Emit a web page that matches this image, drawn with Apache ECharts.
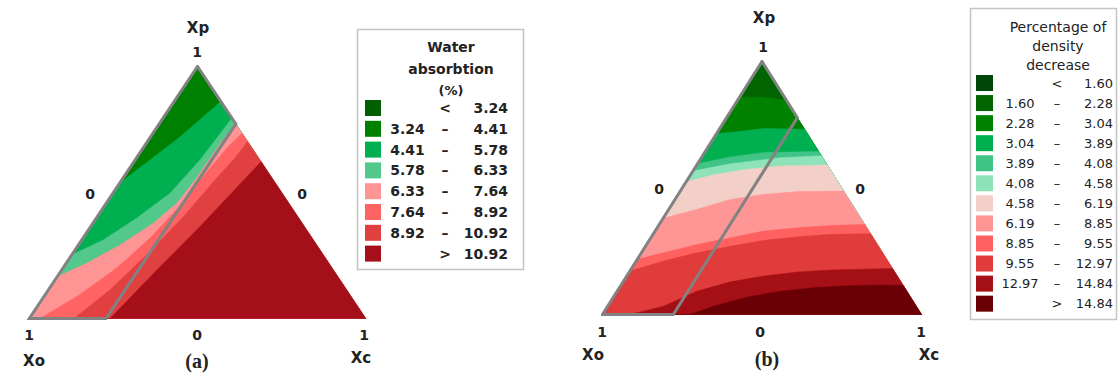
<!DOCTYPE html>
<html><head><meta charset="utf-8">
<script src="https://cdn.jsdelivr.net/npm/echarts@6/dist/echarts.min.js"></script>
<style>html,body{margin:0;padding:0;background:#fff}#c{width:1118px;height:374px}</style>
</head><body><div id="c"></div>
<script>
// ===== (a) Water absorption (%) =====
const waterBreaks = [3.24, 4.41, 5.78, 6.33, 7.64, 8.92, 10.92];
const waterColors = ['#006000', '#008000', '#00b050', '#52c98a', '#ff9494', '#ff6363', '#e04040', '#a50f19'];
// isolines, ternary points [Xc, Xp] (Xo = 1 - Xc - Xp)
const waterIso441  = [[0,0.537],[0.044,0.629],[0.088,0.72],[0.119,0.808],[0.139,0.861]];
const waterIso578  = [[0,0.252],[0.064,0.312],[0.12,0.398],[0.17,0.497],[0.193,0.629],[0.205,0.795]];
const waterIso633  = [[0,0.166],[0.061,0.219],[0.124,0.292],[0.18,0.378],[0.21,0.457],[0.218,0.55],[0.221,0.70],[0.226,0.774]];
const waterIso764  = [[0.032,0],[0.1,0.09],[0.16,0.2],[0.2,0.32],[0.225,0.45],[0.235,0.57],[0.25,0.68],[0.265,0.735]];
const waterIso892  = [[0.133,0],[0.183,0.113],[0.228,0.272],[0.257,0.411],[0.277,0.55],[0.293,0.637],[0.298,0.702]];
const waterIso1092 = [[0.24,0],[0.285,0.2],[0.325,0.364],[0.378,0.622]];
const waterXcMax = 0.228;

// ===== (b) Percentage of density decrease =====
const densBreaks = [1.60, 2.28, 3.04, 3.89, 4.08, 4.58, 6.19, 8.85, 9.55, 12.97, 14.84];
const densColors = ['#00460a', '#006400', '#008200', '#00b050', '#40c485', '#8ee3b8', '#f2d0c8', '#ff9696', '#ff6161', '#e03c3c', '#a50f16', '#690005'];
const densIso228  = [[0,0.8575],[0.066,0.86],[0.153,0.847]];
const densIso304  = [[0,0.715],[0.042,0.719],[0.139,0.735],[0.268,0.732]];
const densIso389  = [[0,0.596],[0.09,0.623],[0.186,0.64],[0.356,0.644]];
const densIso408  = [[0,0.567],[0.103,0.596],[0.249,0.62],[0.373,0.627]];
const densIso458  = [[0,0.525],[0.073,0.552],[0.167,0.574],[0.265,0.587],[0.409,0.591]];
const densIso619  = [[0,0.38],[0.088,0.416],[0.174,0.455],[0.269,0.475],[0.369,0.486],[0.512,0.488]];
const densIso885  = [[0,0.218],[0.069,0.244],[0.158,0.277],[0.25,0.303],[0.341,0.33],[0.44,0.343],[0.54,0.352],[0.644,0.356]];
const densIso955  = [[0,0.172],[0.086,0.211],[0.174,0.244],[0.266,0.27],[0.36,0.293],[0.458,0.307],[0.558,0.317],[0.681,0.319]];
const densIso1297 = [[0.086,0],[0.175,0.033],[0.25,0.092],[0.337,0.129],[0.43,0.152],[0.528,0.168],[0.629,0.176],[0.732,0.179],[0.818,0.182]];
const densIso1484 = [[0.275,0],[0.332,0.033],[0.42,0.069],[0.513,0.092],[0.611,0.106],[0.712,0.114],[0.816,0.116],[0.885,0.115]];
const densXcMax = 0.222;

// ===== text =====
const vertexNames = ['Xp', 'Xo', 'Xc'];
const tickLabels = ['1', '0'];
const panelLabels = ['(a)', '(b)'];
const waterTitle = ['Water', 'absorbtion', '(%)'];
const densTitle = ['Percentage of', 'density', 'decrease'];

// ---------- helpers ----------
const toUV = p => [p[0] + p[1] / 2, p[1]];
const TRI = [[0,0],[1,0],[0.5,1]];
function clipPoly(poly, clip) {
  let out = poly;
  for (let i = 0; i < clip.length; i++) {
    const a = clip[i], b = clip[(i + 1) % clip.length];
    const inp = out; out = [];
    if (!inp.length) break;
    const side = p => (b[0]-a[0])*(p[1]-a[1]) - (b[1]-a[1])*(p[0]-a[0]);
    for (let j = 0; j < inp.length; j++) {
      const P = inp[j], Q = inp[(j + 1) % inp.length];
      const sp = side(P), sq = side(Q);
      if (sp >= 0) out.push(P);
      if ((sp >= 0) !== (sq >= 0)) {
        const t = sp / (sp - sq);
        out.push([P[0] + t*(Q[0]-P[0]), P[1] + t*(Q[1]-P[1])]);
      }
    }
  }
  return out;
}
function regionBelow(iso) {
  if (iso === 'full') return clipPoly([[-1,2],[2,2],[2,-2],[-1,-2]], TRI);
  const pts = iso.map(toUV);
  const f = pts[0], l = pts[pts.length - 1];
  return clipPoly([[-1, f[1]], ...pts, [2, l[1]], [2, -2], [-1, -2]], TRI);
}
const fmt = v => v.toFixed(2);
function bandNames(br) {
  const n = [];
  n.push('< ' + fmt(br[0]));
  for (let i = 1; i < br.length; i++) n.push(fmt(br[i-1]) + ' – ' + fmt(br[i]));
  n.push('> ' + fmt(br[br.length-1]));
  return n;
}
function richName(name) {
  if (name[0] === '<' || name[0] === '>') return '{lo| }{op|' + name[0] + '}{hi|' + name.slice(2) + '}';
  const p = name.split(' – ');
  return '{lo|' + p[0] + '}{op|–}{hi|' + p[1] + '}';
}
function bandSeries(names, colors, isos, g) {
  // isos[i] = lower-bound isoline of band i ('full' = whole triangle, null = absent)
  return names.map((name, i) => {
    const poly = isos[i] ? regionBelow(isos[i]) : null;
    return {
      type: 'custom', name, xAxisIndex: g, yAxisIndex: g, z: 2 + i, silent: true, animation: false,
      itemStyle: { color: colors[i] },
      data: poly ? [[0, 0]] : [],
      renderItem: (params, api) => ({
        type: 'polygon',
        shape: { points: poly.map(p => api.coord(p)) },
        style: { fill: colors[i], stroke: colors[i], lineWidth: 0.5 }
      })
    };
  });
}
function outlineSeries(xcMax, g) {
  const verts = [[0,1],[0,0],[xcMax,0],[xcMax,1-xcMax],[0,1]];
  return { type: 'line', xAxisIndex: g, yAxisIndex: g, z: 60, silent: true, animation: false,
    data: verts.map(toUV), symbol: 'none',
    lineStyle: { color: '#828282', width: 3, join: 'miter', cap: 'square' } };
}

const waterNames = bandNames(waterBreaks);
const densNames = bandNames(densBreaks);
const waterIsos = [null, 'full', waterIso441, waterIso578, waterIso633, waterIso764, waterIso892, waterIso1092];
const densIsos = [null, 'full', densIso228, densIso304, densIso389, densIso408, densIso458, densIso619, densIso885, densIso955, densIso1297, densIso1484];

const FONT = '"DejaVu Sans", "Noto Sans", sans-serif';
const txt = (t, x, y, opt) => Object.assign({
  type: 'text', x, y, silent: true, z: 100,
  style: Object.assign({ text: t, fill: '#222', font: 'bold 15px ' + FONT, lineHeight: 15,
    align: 'center', textAlign: 'center', verticalAlign: 'middle', textVerticalAlign: 'middle' }, opt || {})
});
const SERIF = { font: 'bold 20px "Liberation Serif", serif', lineHeight: 20 };
const TICK = { font: 'bold 14px ' + FONT };

const graphics = [
  // panel (a)
  txt(vertexNames[0], 198, 28),
  txt(tickLabels[0], 197, 52, TICK),
  txt(tickLabels[1], 90, 194, TICK),
  txt(tickLabels[1], 302, 194, TICK),
  txt(tickLabels[0], 29, 335, TICK),
  txt(tickLabels[1], 197, 335, TICK),
  txt(tickLabels[0], 364, 335, TICK),
  txt(vertexNames[1], 34, 361),
  txt(vertexNames[2], 361, 358),
  txt(panelLabels[0], 197, 361, SERIF),
  // panel (b)
  txt(vertexNames[0], 764, 18),
  txt(tickLabels[0], 763, 47, TICK),
  txt(tickLabels[1], 659, 189, TICK),
  txt(tickLabels[1], 860, 189, TICK),
  txt(tickLabels[0], 602, 332, TICK),
  txt(tickLabels[1], 760, 332, TICK),
  txt(tickLabels[0], 921, 332, TICK),
  txt(vertexNames[1], 593, 355),
  txt(vertexNames[2], 929, 355),
  txt(panelLabels[1], 767, 359, SERIF),
  // legend boxes
  { type: 'rect', shape: { x: 357.5, y: 29.5, width: 166, height: 240 }, style: { fill: 'none', stroke: '#c4c4c4', lineWidth: 1.5 }, silent: true },
  { type: 'rect', shape: { x: 970.5, y: 8.5, width: 146, height: 311 }, style: { fill: 'none', stroke: '#c4c4c4', lineWidth: 1.5 }, silent: true },
  txt(waterTitle[0], 451, 47, { font: 'bold 14px ' + FONT, lineHeight: 14 }),
  txt(waterTitle[1], 451, 69, { font: 'bold 14px ' + FONT, lineHeight: 14 }),
  txt(waterTitle[2], 451, 90, { font: 'bold 13px ' + FONT, lineHeight: 13 }),
  txt(densTitle[0], 1058, 27, { font: '14px ' + FONT, lineHeight: 14 }),
  txt(densTitle[1], 1058, 46, { font: '14px ' + FONT, lineHeight: 14 }),
  txt(densTitle[2], 1058, 65, { font: '14px ' + FONT, lineHeight: 14 })
];

const richStyle = (w, weight, size) => ({
  lo: { width: w[0], align: 'right', fontSize: size, fontWeight: weight, fontFamily: FONT, color: '#222', lineHeight: 16 },
  op: { width: w[1], align: 'center', fontSize: size, fontWeight: weight, fontFamily: FONT, color: '#222', lineHeight: 16 },
  hi: { width: w[2], align: 'right', fontSize: size, fontWeight: weight, fontFamily: FONT, color: '#222', lineHeight: 16 }
});

const option = {
  backgroundColor: '#fff',
  animation: false,
  grid: [
    { left: 29.3, top: 66.5, width: 336.4, height: 252 },
    { left: 602.5, top: 61.5, width: 319, height: 253 }
  ],
  xAxis: [
    { type: 'value', min: 0, max: 1, show: false, gridIndex: 0 },
    { type: 'value', min: 0, max: 1, show: false, gridIndex: 1 }
  ],
  yAxis: [
    { type: 'value', min: 0, max: 1, show: false, gridIndex: 0 },
    { type: 'value', min: 0, max: 1, show: false, gridIndex: 1 }
  ],
  legend: [
    { orient: 'vertical', left: 365, top: 100, padding: 0, itemWidth: 16, itemHeight: 16, itemGap: 4.8,
      icon: 'rect', selectedMode: false, data: waterNames, formatter: richName,
      textStyle: { fontSize: 14, lineHeight: 16, rich: richStyle([43, 32, 47], 'bold', 14) } },
    { orient: 'vertical', left: 976, top: 75, padding: 0, itemWidth: 17, itemHeight: 16, itemGap: 4.06,
      icon: 'rect', selectedMode: false, data: densNames, formatter: richName,
      textStyle: { fontSize: 13, lineHeight: 16, rich: richStyle([44, 30, 41], 'normal', 13) } }
  ],
  series: [
    ...bandSeries(waterNames, waterColors, waterIsos, 0),
    outlineSeries(waterXcMax, 0),
    ...bandSeries(densNames, densColors, densIsos, 1),
    outlineSeries(densXcMax, 1)
  ],
  graphic: graphics
};

const chart = echarts.init(document.getElementById('c'), null, { renderer: 'svg' });
chart.setOption(option);
</script>
</body></html>
